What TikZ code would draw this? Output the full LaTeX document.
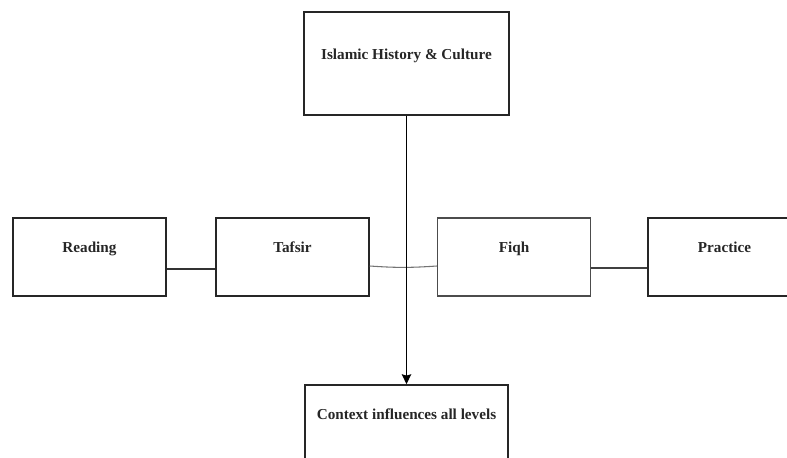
\documentclass[tikz,border=0pt]{standalone}
\usepackage{fontspec}
\setmainfont{Liberation Serif}
\usetikzlibrary{arrows.meta}

\tikzset{
  box/.style={draw=black!85, line width=1.1pt, inner sep=0pt,
    minimum width=114.75pt, minimum height=58.5pt},
  lbl/.style={font=\bfseries\fontsize{11.4}{13}\selectfont, text=black!85,
    text height=8pt, text depth=2.5pt},
  link/.style={line width=0.8pt, draw=black!80}
}

\begin{document}
\begin{tikzpicture}[x=0.75pt,y=-0.75pt]
\useasboundingbox (0,0) rectangle (787,457);
\clip (0,0) rectangle (787,457);

% top and bottom
\node[box, minimum width=153.75pt, minimum height=77.25pt,
  label={[lbl, yshift=5.9pt]center:Islamic History \& Culture}] (hist) at (406.5,63.5) {};
\node[box, minimum width=152.25pt, minimum height=77.25pt,
  label={[lbl, yshift=15.6pt]center:Context influences all levels}] (ctx) at (406.5,436.5) {};

% the chain
\node[box, label={[lbl, yshift=6.1pt]center:Reading}] (read) at (89.5,257) {};
\node[box, label={[lbl, yshift=6.1pt]center:Tafsir}] (tafsir) at (292.5,257) {};
\node[box, draw=black!70, label={[lbl, yshift=6.1pt]center:Fiqh}] (fiqh) at (514,257) {};
\node[box, label={[lbl, yshift=6.1pt]center:Practice}] (prac) at (724.5,257) {};

\draw[link] ([yshift=-9pt]read.east) -- ([yshift=-9pt]tafsir.west);
\draw[link, draw=black!55] ([yshift=-6.75pt]tafsir.east) to[bend right=4] ([yshift=-6.75pt]fiqh.west);
\draw[link, draw=black!75] ([yshift=-8.25pt]fiqh.east) -- ([yshift=-8.25pt]prac.west);

\draw[line width=0.9pt, -{Stealth[length=7.5pt,width=7pt,inset=1pt]}] (hist.south) -- (ctx.north);
\end{tikzpicture}
\end{document}
